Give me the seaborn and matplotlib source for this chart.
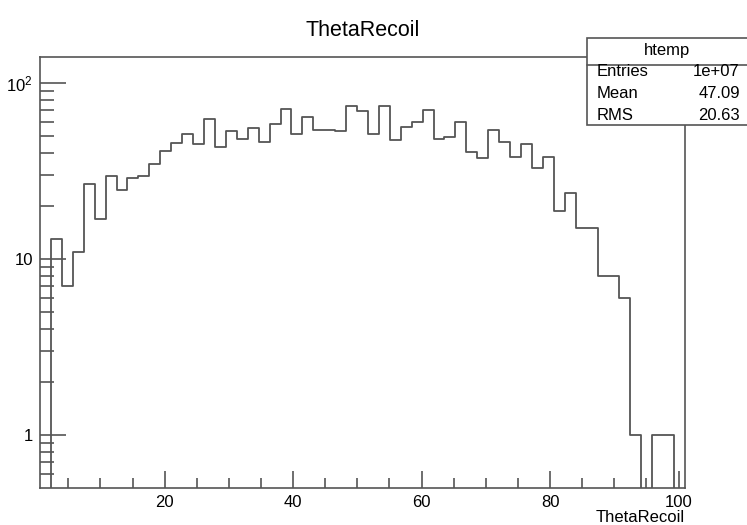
import numpy as np
import pandas as pd
import matplotlib
matplotlib.use('Agg')
import matplotlib.pyplot as plt
import matplotlib.patches as patches
from matplotlib.ticker import FixedLocator, FixedFormatter, NullFormatter
import seaborn as sns

# histogram range and bin contents (59 bins)
x_min, x_max, n_bins = 0.6, 101.0, 59
counts = [0, 13, 7, 11, 26.8, 16.9, 29.6, 24.7, 28.8, 29.6,
          34.6, 41.4, 45.6, 51.7, 45.0, 62.7, 43.6, 53.6, 48.4, 55.9,
          46.5, 58.9, 71.4, 51.7, 64.6, 54.5, 54.5, 53.7, 74.3, 69.6,
          51.7, 74.3, 47.8, 56.6, 60.2, 70.2, 48.2, 49.7, 60.2, 40.8,
          37.8, 54.2, 46.5, 38.0, 45.0, 32.9, 38.0, 18.9, 23.7, 15.0,
          15.0, 8.0, 8.0, 6.0, 1, 0, 1, 1, 0]

x_ticks = [20, 40, 60, 80, 100]
y_ticks = [1, 10, 100]
y_tick_labels = ['1', '10', '$10^{2}$']
stat_labels = ['Entries', 'Mean', 'RMS']
stat_values = ['1e+07', '47.09', '20.63']

edges = np.linspace(x_min, x_max, n_bins + 1)
centers = (edges[:-1] + edges[1:]) / 2
df = pd.DataFrame({'ThetaRecoil': centers, 'w': counts})

sns.set_style('white')
plt.rcParams['font.family'] = ['Liberation Sans', 'DejaVu Sans']
plt.rcParams['mathtext.default'] = 'regular'
plt.rcParams['text.color'] = 'black'

line_col = '#555555'
W, H = 747, 525
fig = plt.figure(figsize=(W / 100, H / 100), dpi=100)
ax = fig.add_axes([40 / W, 1 - 488 / H, (685 - 40) / W, (488 - 57) / H])

sns.histplot(data=df, x='ThetaRecoil', weights='w', bins=list(edges),
             element='step', fill=False, color=line_col, linewidth=1.3, ax=ax)
ax.set_yscale('log')
ax.set_xlim(x_min, x_max)
ax.set_ylim(0.5, 141)
ax.set_xlabel('')
ax.set_ylabel('')

for s in ax.spines.values():
    s.set_color(line_col)
    s.set_linewidth(1.2)

ax.xaxis.set_major_locator(FixedLocator(x_ticks))
ax.xaxis.set_minor_locator(FixedLocator([v for v in range(5, 100, 5) if v % 20]))
ax.yaxis.set_major_locator(FixedLocator(y_ticks))
ax.yaxis.set_major_formatter(FixedFormatter(y_tick_labels))
ax.yaxis.set_minor_locator(FixedLocator([0.6, 0.7, 0.8, 0.9] + list(range(2, 10)) + list(range(20, 100, 10))))
ax.yaxis.set_minor_formatter(NullFormatter())

ax.tick_params(which='both', direction='in', bottom=True, left=True, top=False, right=False,
               color=line_col, width=1.2, labelsize=12, labelcolor='black')
ax.tick_params(axis='x', which='major', length=12, pad=5)
ax.tick_params(axis='x', which='minor', length=7)
ax.tick_params(axis='y', which='major', length=19, pad=5)
ax.tick_params(axis='y', which='minor', length=10)

# titles
fig.text(363 / W, 1 - 31 / H, 'ThetaRecoil', ha='center', va='center', fontsize=15.5)
fig.text(685 / W, 1 - 518 / H, 'ThetaRecoil', ha='right', va='center', fontsize=12)

# stats box
bx0, by0, bx1, by1 = 587, 38, 752, 125
fig.add_artist(patches.Rectangle((bx0 / W, 1 - by1 / H), (bx1 - bx0) / W, (by1 - by0) / H,
                                 transform=fig.transFigure, facecolor='white',
                                 edgecolor=line_col, linewidth=1.2, zorder=5))
fig.add_artist(plt.Line2D([bx0 / W, 1], [1 - 65 / H, 1 - 65 / H], transform=fig.transFigure,
                          color=line_col, linewidth=1.2, zorder=6))
fig.text(667 / W, 1 - 50 / H, 'htemp', ha='center', va='center', fontsize=12, zorder=7)
for i, (lab, val) in enumerate(zip(stat_labels, stat_values)):
    yy = 1 - (72 + 21.6 * i) / H
    fig.text(597 / W, yy, lab, ha='left', va='center', fontsize=12, zorder=7)
    fig.text(740 / W, yy, val, ha='right', va='center', fontsize=12, zorder=7)

fig.savefig('out.png', dpi=100)
